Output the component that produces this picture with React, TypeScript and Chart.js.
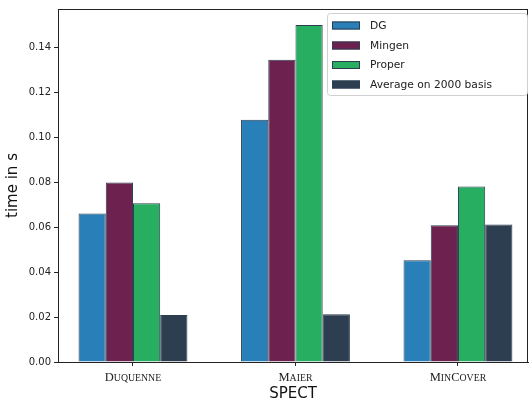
import React, { useEffect, useRef } from "react";
import { Chart, registerables } from "chart.js";

Chart.register(...registerables);

const categories = ["Duquenne", "Maier", "MinCover"];
const seriesNames = ["DG", "Mingen", "Proper", "Average on 2000 basis"];
const dgValues = [0.0662, 0.108, 0.0453];
const mingenValues = [0.0800, 0.1347, 0.0609];
const properValues = [0.0707, 0.1502, 0.0782];
const averageValues = [0.0209, 0.0213, 0.0613];
const seriesColors = ["#2980b9", "#6d214f", "#27ae60", "#2c3e50"];
const yTicks = [0, 0.02, 0.04, 0.06, 0.08, 0.1, 0.12, 0.14];

const SANS = "'DejaVu Sans', sans-serif";
const SERIF = "'Liberation Serif', serif";

function drawSmallCaps(ctx: CanvasRenderingContext2D, text: string, cx: number, cy: number) {
  const big = 12.5;
  const small = 9.8;
  const parts: { t: string; s: number }[] = [];
  for (const ch of text) {
    const isUpper = ch === ch.toUpperCase();
    parts.push({ t: ch.toUpperCase(), s: isUpper ? big : small });
  }
  let total = 0;
  for (const p of parts) {
    ctx.font = `${p.s}px ${SERIF}`;
    total += ctx.measureText(p.t).width;
  }
  let x = cx - total / 2;
  ctx.textBaseline = "alphabetic";
  ctx.textAlign = "left";
  for (const p of parts) {
    ctx.font = `${p.s}px ${SERIF}`;
    ctx.fillText(p.t, x, cy);
    x += ctx.measureText(p.t).width;
  }
}

const customPlugin = {
  id: "custom",
  afterDraw(chart: any) {
    const ctx: CanvasRenderingContext2D = chart.ctx;
    const area = chart.chartArea;
    ctx.save();
    ctx.strokeStyle = "#222";
    ctx.lineWidth = 1;
    ctx.strokeRect(area.left + 0.5, area.top + 0.5, area.right - area.left - 1, area.bottom - area.top);
    const xs = chart.scales.x;
    ctx.fillStyle = "#222";
    categories.forEach((c, i) => {
      const px = xs.getPixelForValue(i);
      drawSmallCaps(ctx, c, px, area.bottom + 19);
    });
    const lx = 327, ly = 13, lw = 200, lh = 82;
    ctx.beginPath();
    (ctx as any).roundRect(lx + 0.5, ly + 0.5, lw, lh, 3);
    ctx.fillStyle = "rgba(255,255,255,0.85)";
    ctx.fill();
    ctx.strokeStyle = "#d0d0d0";
    ctx.stroke();
    const rowY = [25.5, 45.5, 65, 84.5];
    seriesNames.forEach((n, i) => {
      const cy = rowY[i];
      ctx.fillStyle = seriesColors[i];
      ctx.fillRect(332, cy - 4, 28, 8);
      ctx.strokeStyle = "#2c3e50";
      ctx.lineWidth = 1;
      ctx.strokeRect(332.5, cy - 3.5, 27, 7);
      ctx.fillStyle = "#222";
      ctx.font = `10.7px ${SANS}`;
      ctx.textAlign = "left";
      ctx.textBaseline = "middle";
      ctx.fillText(n, 370, cy + 0.5);
    });
    ctx.restore();
  },
};

export default function App() {
  const ref = useRef<HTMLCanvasElement>(null);
  useEffect(() => {
    document.body.style.margin = "0";
    const values = [dgValues, mingenValues, properValues, averageValues];
    const chart = new Chart(ref.current!, {
      type: "bar",
      data: {
        datasets: seriesNames.map((n, i) => ({
          label: n,
          data: values[i].map((v, j) => ({ x: j, y: v })),
          backgroundColor: seriesColors[i],
          borderColor: "#2c3e50",
          borderWidth: 1,
          categoryPercentage: 0.67,
          barPercentage: 1,
        })),
      },
      options: {
        animation: false,
        responsive: false,
        maintainAspectRatio: false,
        layout: { padding: { top: 8, right: 2, left: 0, bottom: 0 } },
        plugins: { legend: { display: false }, tooltip: { enabled: false } },
        scales: {
          x: {
            type: "linear",
            offset: false,
            min: -0.4615,
            max: 2.431,
            afterBuildTicks(scale: any) { scale.ticks = categories.map((_, i) => ({ value: i })); },
            grid: { display: true, offset: false, drawOnChartArea: false, drawTicks: true, tickLength: 4, color: "#222" },
            border: { display: true, color: "#222" },
            ticks: { color: "rgba(0,0,0,0)", font: { size: 12, family: SERIF }, padding: 2, callback: () => "" },
            title: { display: true, text: "SPECT", color: "#111", font: { size: 15, family: SANS, lineHeight: 1.0 }, padding: { top: 0, bottom: 0 } },
            afterFit(scale: any) { scale.height = 40; },
          },
          y: {
            min: 0,
            max: 0.1573,
            afterBuildTicks(scale: any) { scale.ticks = yTicks.map((v) => ({ value: v })); },
            grid: { display: true, drawOnChartArea: false, drawTicks: true, tickLength: 4, color: "#222" },
            border: { display: true, color: "#222" },
            ticks: { color: "#222", font: { size: 10, family: SANS }, padding: 3, callback: (v: any) => Number(v).toFixed(2) },
            title: { display: true, text: "time in s", color: "#111", font: { size: 15, family: SANS }, padding: { top: 4, bottom: 0 } },
            afterFit(scale: any) { scale.width = 58; },
          },
        },
      },
      plugins: [customPlugin],
    });
    return () => chart.destroy();
  }, []);
  return <canvas ref={ref} width={530} height={402} style={{ display: "block" }} />;
}
